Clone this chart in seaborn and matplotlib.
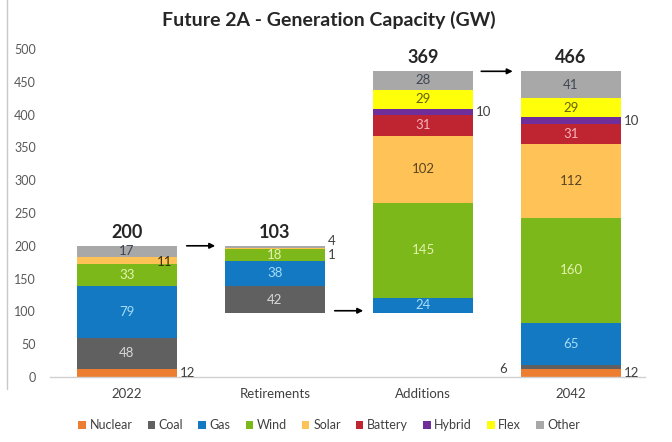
import numpy as np
import pandas as pd
import matplotlib
matplotlib.use("Agg")
import matplotlib.pyplot as plt
from matplotlib.lines import Line2D
from matplotlib.patches import Patch
import seaborn as sns

# ---- data ----
categories = ["2022", "Retirements", "Additions", "2042"]
techs = ["Nuclear", "Coal", "Gas", "Wind", "Solar", "Battery", "Hybrid", "Flex", "Other"]
cap_2022 = [12, 48, 79, 33, 11, 0, 0, 0, 17]
retirements = [0, 42, 38, 18, 1, 0, 0, 0, 4]
additions = [0, 0, 24, 145, 102, 31, 10, 29, 28]
cap_2042 = [12, 6, 65, 160, 112, 31, 10, 29, 41]
y_ticks = [0, 50, 100, 150, 200, 250, 300, 350, 400, 450, 500]

# ---- style ----
sns.set_theme(style="white")
plt.rcParams["font.family"] = ["Lato", "DejaVu Sans"]

colors = {
    "Nuclear": "#ED7D31", "Coal": "#606060", "Gas": "#1279C2", "Wind": "#7DB81A",
    "Solar": "#FFC256", "Battery": "#BE2530", "Hybrid": "#6F2E9A", "Flex": "#FFFF0A",
    "Other": "#A8A8A8",
}
txt_colors = {
    "Nuclear": "#404040", "Coal": "#D8D8D8", "Gas": "#A6DCF7", "Wind": "#E4F2B0",
    "Solar": "#5A4520", "Battery": "#F6B2BA", "Hybrid": "#404040", "Flex": "#66620A",
    "Other": "#3E4654",
}

series = [cap_2022, retirements, additions, cap_2042]
base_ret = sum(cap_2022) - sum(retirements)
baselines = [0, base_ret, base_ret, 0]
totals = [sum(s) for s in series]

rows = []
for ci, (cat, vals, b0) in enumerate(zip(categories, series, baselines)):
    cum = b0
    for t, v in zip(techs, vals):
        rows.append(dict(category=cat, tech=t, value=v, bottom=cum))
        cum += v
df = pd.DataFrame(rows)

fig = plt.figure(figsize=(6.72, 4.42), dpi=100)
ax = fig.add_axes([50 / 672, 65 / 442, 595 / 672, 328 / 442])

W = 0.67
for t in techs:
    sub = df[df.tech == t].set_index("category").loc[categories].reset_index()
    sns.barplot(data=sub, x="category", y="value", order=categories, color=colors[t],
                bottom=sub["bottom"].values, width=W, ax=ax, saturation=1,
                linewidth=0, errorbar=None)

# ---- segment labels ----
outside_right = {("Retirements", "Solar"), ("Retirements", "Other"),
                 ("Additions", "Hybrid"), ("2042", "Hybrid"),
                 ("2022", "Nuclear"), ("2042", "Nuclear")}
label_offsets = {("Retirements", "Other"): 9, ("Retirements", "Solar"): -9}
for _, r in df.iterrows():
    if r.value == 0:
        continue
    ci = categories.index(r.category)
    key = (r.category, r.tech)
    ymid = r.bottom + r.value / 2
    if key in outside_right:
        ax.text(ci + W / 2 + 0.02, ymid + label_offsets.get(key, 0), f"{r.value}",
                ha="left", va="center", fontsize=9.5, color="#404040")
    elif key == ("2042", "Coal"):
        ax.text(ci - W / 2 - 0.1, 12, f"{r.value}", ha="right", va="center",
                fontsize=9.5, color="#404040")
    elif key == ("2022", "Solar"):
        ax.text(ci + W / 2 - 0.03, ymid - 2, f"{r.value}", ha="right", va="center",
                fontsize=9.5, color="#3A3000")
    else:
        ax.text(ci, ymid, f"{r.value}", ha="center", va="center", fontsize=9.5,
                color=txt_colors[r.tech])

# totals
for ci, (tot, b0) in enumerate(zip(totals, baselines)):
    ax.text(ci, b0 + tot + 8, f"{tot}", ha="center", va="bottom", fontsize=13,
            fontweight="bold", color="#262626")

# arrows
arrow_kw = dict(arrowstyle="-|>", color="black", lw=1.2, mutation_scale=8)
top_2022 = totals[0]
top_add = base_ret + totals[2]
ax.annotate("", xy=(1 - W / 2 - 0.05, top_2022), xytext=(0 + W / 2 + 0.05, top_2022),
            arrowprops=arrow_kw)
ax.annotate("", xy=(2 - W / 2 - 0.05, base_ret + 4), xytext=(1 + W / 2 + 0.05, base_ret + 4),
            arrowprops=arrow_kw)
ax.annotate("", xy=(3 - W / 2 - 0.04, top_add), xytext=(2 + W / 2 + 0.04, top_add),
            arrowprops=arrow_kw)

# axes styling
ax.set_xlim(-0.52, 3.5)
ax.set_ylim(0, 500)
ax.set_yticks(y_ticks)
ax.set_yticklabels([str(v) for v in y_ticks], fontsize=9, color="#595959")
ax.tick_params(axis="y", length=0, pad=10)
ax.tick_params(axis="x", length=0, pad=8, labelsize=9.5, labelcolor="#404040")
ax.set_xlabel("")
ax.set_ylabel("")
for s in ["top", "right", "left"]:
    ax.spines[s].set_visible(False)
ax.spines["bottom"].set_color("#D0D0D0")
ax.spines["bottom"].set_linewidth(1)

fig.text(0.49, 0.955, "Future 2A - Generation Capacity (GW)", ha="center", va="center",
         fontsize=14, fontweight="bold", color="#262626")

handles = [Patch(facecolor=colors[t], edgecolor="none") for t in techs]
fig.legend(handles, techs, loc="center", bbox_to_anchor=(0.49, 0.038), ncol=9,
           frameon=False, fontsize=9, handlelength=0.6, handleheight=0.6,
           handletextpad=0.3, columnspacing=1.2, labelcolor="#404040")

fig.add_artist(Line2D([7 / 672, 7 / 672], [0.12, 1.0], color="#C8C8C8", lw=1))

fig.savefig("out.png", dpi=100)
